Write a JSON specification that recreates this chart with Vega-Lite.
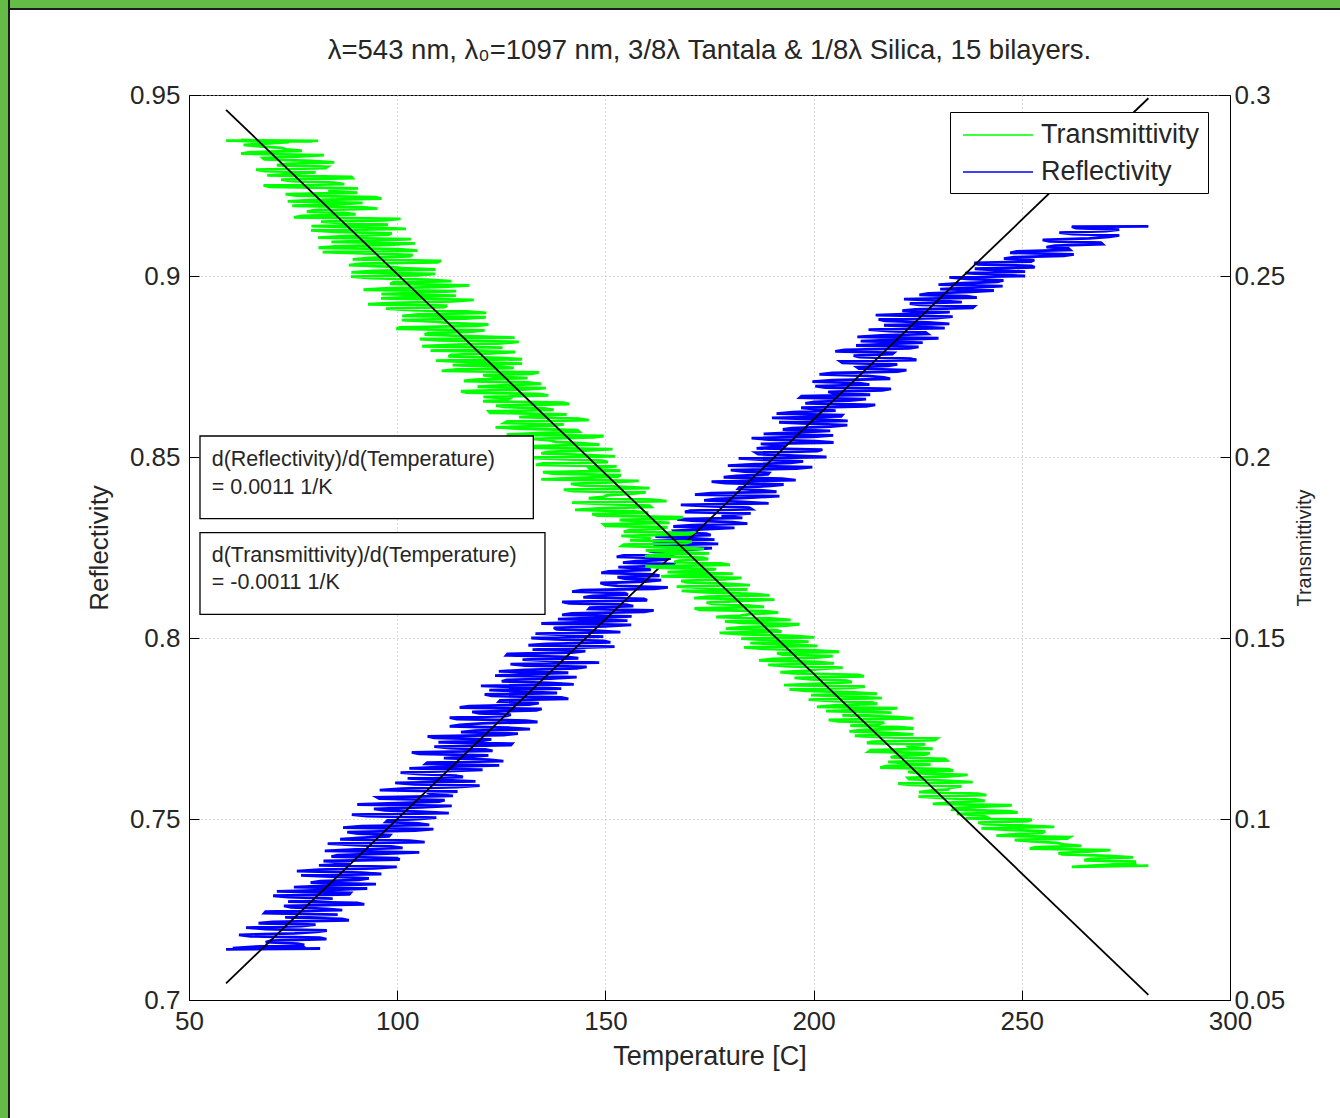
{
"$schema": "https://vega.github.io/schema/vega-lite/v6.json",
"padding": 0,
"background": "white",
"spacing": 0,
"bounds": "flush",
"config": {
  "font": "Liberation Sans",
  "view": {"stroke": null},
  "axis": {"labelFont": "Liberation Sans", "titleFont": "Liberation Sans", "labelColor": "#262626", "titleColor": "#262626", "domainColor": "#000000", "tickColor": "#000000", "titleFontWeight": "normal", "labelOverlap": false, "labelFlush": false}
},
"datasets": {
"blue": [{"t":58.9,"r":0.714},{"t":81.5,"r":0.7142},{"t":63,"r":0.7141},{"t":78,"r":0.7144},{"t":60.5,"r":0.7143},{"t":65,"r":0.7147},
{"t":77.7,"r":0.7152},{"t":76,"r":0.7156},{"t":68.4,"r":0.716},{"t":69.7,"r":0.7164},{"t":83,"r":0.7168},{"t":81.4,"r":0.7172},{"t":64.7,"r":0.7176},{"t":62,"r":0.718},{"t":75.4,"r":0.7184},{"t":80.7,"r":0.7188},
{"t":83.1,"r":0.7192},{"t":68.4,"r":0.7196},{"t":63.7,"r":0.72},{"t":77,"r":0.7204},{"t":80.4,"r":0.7208},{"t":66.7,"r":0.7212},{"t":70.1,"r":0.7216},{"t":88.4,"r":0.722},{"t":86.8,"r":0.7224},{"t":73.1,"r":0.7228},
{"t":75.4,"r":0.7232},{"t":85.7,"r":0.7236},{"t":68.1,"r":0.724},{"t":68.4,"r":0.7244},{"t":86.8,"r":0.7248},{"t":83.1,"r":0.7252},{"t":74.5,"r":0.7256},{"t":72.8,"r":0.726},{"t":92.1,"r":0.7264},{"t":90.4,"r":0.7268},
{"t":73.8,"r":0.7272},{"t":78.1,"r":0.7276},{"t":84.5,"r":0.728},{"t":73.8,"r":0.7284},{"t":70.2,"r":0.7288},{"t":88.5,"r":0.7292},{"t":88.8,"r":0.7296},{"t":71.1,"r":0.73},{"t":84.5,"r":0.7304},{"t":92.8,"r":0.7308},
{"t":75.2,"r":0.7312},{"t":83.5,"r":0.7316},{"t":94.9,"r":0.732},{"t":79.2,"r":0.7324},{"t":81.5,"r":0.7328},{"t":90.8,"r":0.7332},{"t":93.2,"r":0.7336},{"t":85.5,"r":0.734},{"t":76.9,"r":0.7344},{"t":96.2,"r":0.7348},
{"t":91.6,"r":0.7352},{"t":75.9,"r":0.7356},{"t":81.2,"r":0.736},{"t":94.5,"r":0.7364},{"t":99.9,"r":0.7368},{"t":81.2,"r":0.7372},{"t":88.6,"r":0.7376},{"t":86.9,"r":0.738},{"t":82.3,"r":0.7384},{"t":100.6,"r":0.7388},
{"t":99.9,"r":0.7392},{"t":84.2,"r":0.7396},{"t":85.6,"r":0.74},{"t":95.9,"r":0.7404},{"t":105.3,"r":0.7408},{"t":82.6,"r":0.7412},{"t":90,"r":0.7416},{"t":101.3,"r":0.742},{"t":98.6,"r":0.7424},{"t":89.9,"r":0.7428},
{"t":83.3,"r":0.7432},{"t":106.6,"r":0.7436},{"t":103,"r":0.744},{"t":86.3,"r":0.7444},{"t":90.7,"r":0.7448},{"t":98,"r":0.7452},{"t":98.3,"r":0.7456},{"t":90.6,"r":0.746},{"t":88,"r":0.7464},{"t":104.3,"r":0.7468},
{"t":108.7,"r":0.7472},{"t":87,"r":0.7476},{"t":91.4,"r":0.748},{"t":107.7,"r":0.7484},{"t":105,"r":0.7488},{"t":97.3,"r":0.7492},{"t":97.7,"r":0.7496},{"t":105,"r":0.75},{"t":109.4,"r":0.7504},{"t":92.7,"r":0.7508},
{"t":89.1,"r":0.7512},{"t":112.4,"r":0.7516},{"t":105.7,"r":0.752},{"t":97,"r":0.7524},{"t":94.4,"r":0.7528},{"t":105.7,"r":0.7532},{"t":113.1,"r":0.7536},{"t":90.4,"r":0.754},{"t":99.8,"r":0.7544},{"t":110.1,"r":0.7548},
{"t":111.4,"r":0.7552},{"t":95.7,"r":0.7556},{"t":95.1,"r":0.756},{"t":113.4,"r":0.7564},{"t":108.8,"r":0.7568},{"t":107.1,"r":0.7572},{"t":114.5,"r":0.7576},{"t":95.8,"r":0.758},{"t":101.1,"r":0.7584},{"t":114.4,"r":0.7588},
{"t":119.8,"r":0.7592},{"t":104.1,"r":0.7596},{"t":99.5,"r":0.76},{"t":118.8,"r":0.7604},{"t":110.2,"r":0.7608},{"t":102.5,"r":0.7612},{"t":115.8,"r":0.7616},{"t":114.1,"r":0.762},{"t":105.5,"r":0.7624},{"t":100.8,"r":0.7628},
{"t":112.2,"r":0.7632},{"t":120.5,"r":0.7636},{"t":102.9,"r":0.764},{"t":111.2,"r":0.7644},{"t":124.5,"r":0.7648},{"t":106.8,"r":0.7652},{"t":107.2,"r":0.7656},{"t":125.5,"r":0.766},{"t":121.9,"r":0.7664},{"t":111.2,"r":0.7668},
{"t":117.6,"r":0.7672},{"t":121.9,"r":0.7676},{"t":105.2,"r":0.768},{"t":103.5,"r":0.7684},{"t":122.9,"r":0.7688},{"t":121.2,"r":0.7692},{"t":112.6,"r":0.7696},{"t":108.9,"r":0.77},{"t":127.3,"r":0.7704},{"t":127.6,"r":0.7708},
{"t":109.9,"r":0.7712},{"t":120.2,"r":0.7716},{"t":122.6,"r":0.772},{"t":108.9,"r":0.7724},{"t":107.3,"r":0.7728},{"t":125.6,"r":0.7732},{"t":129,"r":0.7736},{"t":115.3,"r":0.774},{"t":118.6,"r":0.7744},{"t":131.9,"r":0.7748},
{"t":127.3,"r":0.7752},{"t":112.6,"r":0.7756},{"t":115,"r":0.776},{"t":120.3,"r":0.7764},{"t":133.7,"r":0.7768},{"t":131,"r":0.7772},{"t":114.3,"r":0.7776},{"t":112.6,"r":0.778},{"t":126,"r":0.7784},{"t":127.3,"r":0.7788},
{"t":119.7,"r":0.7792},{"t":118,"r":0.7796},{"t":133.4,"r":0.78},{"t":134.7,"r":0.7804},{"t":115,"r":0.7808},{"t":117.3,"r":0.7812},{"t":131.7,"r":0.7816},{"t":134,"r":0.782},{"t":124.4,"r":0.7824},{"t":124.7,"r":0.7828},
{"t":141.1,"r":0.7832},{"t":139.4,"r":0.7836},{"t":122.7,"r":0.784},{"t":121,"r":0.7844},{"t":138.4,"r":0.7848},{"t":131.7,"r":0.7852},{"t":122.1,"r":0.7856},{"t":139.4,"r":0.786},{"t":129.8,"r":0.7864},{"t":120.1,"r":0.7868},
{"t":142.4,"r":0.7872},{"t":136.7,"r":0.7876},{"t":125.1,"r":0.788},{"t":126.4,"r":0.7884},{"t":136.8,"r":0.7888},{"t":143.1,"r":0.7892},{"t":123.5,"r":0.7896},{"t":131.8,"r":0.79},{"t":141.1,"r":0.7904},{"t":124.4,"r":0.7908},
{"t":130.8,"r":0.7912},{"t":143.1,"r":0.7916},{"t":145.5,"r":0.792},{"t":130.8,"r":0.7924},{"t":127.2,"r":0.7928},{"t":148.5,"r":0.7932},{"t":137.8,"r":0.7936},{"t":130.1,"r":0.794},{"t":143.5,"r":0.7944},{"t":140.8,"r":0.7948},
{"t":126.2,"r":0.7952},{"t":126.5,"r":0.7956},{"t":141.9,"r":0.796},{"t":145.2,"r":0.7964},{"t":132.5,"r":0.7968},{"t":140.8,"r":0.7972},{"t":152.2,"r":0.7976},{"t":131.5,"r":0.798},{"t":135.9,"r":0.7984},{"t":151.2,"r":0.7988},
{"t":149.6,"r":0.7992},{"t":137.9,"r":0.7996},{"t":132.2,"r":0.8},{"t":149.5,"r":0.8004},{"t":140.9,"r":0.8008},{"t":133.2,"r":0.8012},{"t":153.6,"r":0.8016},{"t":147.9,"r":0.802},{"t":138.3,"r":0.8024},{"t":137.6,"r":0.8028},
{"t":149.9,"r":0.8032},{"t":156.2,"r":0.8036},{"t":134.6,"r":0.804},{"t":144.9,"r":0.8044},{"t":155.3,"r":0.8048},{"t":138.6,"r":0.8052},{"t":149,"r":0.8056},{"t":156.3,"r":0.806},{"t":139.6,"r":0.8064},{"t":141.9,"r":0.8068},
{"t":159.3,"r":0.8072},{"t":161.6,"r":0.8076},{"t":146,"r":0.808},{"t":146.3,"r":0.8084},{"t":156.7,"r":0.8088},{"t":155,"r":0.8092},{"t":141.3,"r":0.8096},{"t":139.6,"r":0.81},{"t":160,"r":0.8104},{"t":159.3,"r":0.8108},
{"t":144.7,"r":0.8112},{"t":147,"r":0.8116},{"t":155.4,"r":0.812},{"t":154.7,"r":0.8124},{"t":142,"r":0.8128},{"t":144.3,"r":0.8132},{"t":161.7,"r":0.8136},{"t":165,"r":0.814},{"t":153,"r":0.8144},{"t":149.8,"r":0.8148},
{"t":148.8,"r":0.8152},{"t":159.6,"r":0.8156},{"t":163.4,"r":0.816},{"t":154.6,"r":0.8164},{"t":152.9,"r":0.8168},{"t":163,"r":0.8172},{"t":161.3,"r":0.8176},{"t":149,"r":0.818},{"t":150.8,"r":0.8184},{"t":160.9,"r":0.8188},
{"t":159.8,"r":0.8192},{"t":153.1,"r":0.8196},{"t":166.1,"r":0.82},{"t":166.4,"r":0.8204},{"t":154.2,"r":0.8208},{"t":157.3,"r":0.8212},{"t":164,"r":0.8216},{"t":165.7,"r":0.822},{"t":152.7,"r":0.8224},{"t":154.4,"r":0.8228},
{"t":166.7,"r":0.8232},{"t":164.2,"r":0.8236},{"t":160.4,"r":0.824},{"t":170.6,"r":0.8244},{"t":175.6,"r":0.8248},{"t":161.7,"r":0.8252},{"t":162.2,"r":0.8256},{"t":177.1,"r":0.826},{"t":167.2,"r":0.8264},{"t":161.3,"r":0.8268},
{"t":176.2,"r":0.8272},{"t":170.3,"r":0.8276},{"t":162,"r":0.828},{"t":175.3,"r":0.8284},{"t":174.2,"r":0.8288},{"t":166.7,"r":0.8292},{"t":166.4,"r":0.8296},{"t":173.3,"r":0.83},{"t":181,"r":0.8304},{"t":166.3,"r":0.8308},
{"t":170.8,"r":0.8312},{"t":184.1,"r":0.8316},{"t":180.6,"r":0.832},{"t":170.7,"r":0.8324},{"t":167.2,"r":0.8328},{"t":182.9,"r":0.8332},{"t":177.9,"r":0.8336},{"t":180.1,"r":0.834},{"t":184.9,"r":0.8344},{"t":169.1,"r":0.8348},
{"t":170.3,"r":0.8352},{"t":185.1,"r":0.8356},{"t":184.5,"r":0.836},{"t":175.9,"r":0.8364},{"t":168.1,"r":0.8368},{"t":189.2,"r":0.8372},{"t":183.2,"r":0.8376},{"t":173.7,"r":0.838},{"t":176.7,"r":0.8384},{"t":185.2,"r":0.8388},
{"t":191.8,"r":0.8392},{"t":171.5,"r":0.8396},{"t":175.4,"r":0.84},{"t":191.1,"r":0.8404},{"t":187.8,"r":0.8408},{"t":181.9,"r":0.8412},{"t":182.2,"r":0.8416},{"t":189.8,"r":0.842},{"t":192.8,"r":0.8424},{"t":178.8,"r":0.8428},
{"t":175.5,"r":0.8432},{"t":195.7,"r":0.8436},{"t":192.4,"r":0.844},{"t":178.4,"r":0.8444},{"t":181.4,"r":0.8448},{"t":189,"r":0.8452},{"t":189.3,"r":0.8456},{"t":183.4,"r":0.846},{"t":180.1,"r":0.8464},{"t":195.8,"r":0.8468},
{"t":199.7,"r":0.8472},{"t":179.4,"r":0.8476},{"t":186,"r":0.848},{"t":194.5,"r":0.8484},{"t":197.5,"r":0.8488},{"t":188,"r":0.8492},{"t":182,"r":0.8496},{"t":203.1,"r":0.85},{"t":195.3,"r":0.8504},{"t":186.7,"r":0.8508},
{"t":186.1,"r":0.8512},{"t":200.9,"r":0.8516},{"t":202.1,"r":0.852},{"t":186.3,"r":0.8524},{"t":191.1,"r":0.8528},{"t":193.3,"r":0.8532},{"t":187.3,"r":0.8536},{"t":204.8,"r":0.854},{"t":200.6,"r":0.8544},{"t":189.3,"r":0.8548},
{"t":185.1,"r":0.8552},{"t":199.9,"r":0.8556},{"t":204.7,"r":0.856},{"t":188,"r":0.8564},{"t":196.4,"r":0.8568},{"t":204,"r":0.8572},{"t":192.6,"r":0.8576},{"t":194.8,"r":0.858},{"t":204.1,"r":0.8584},{"t":208.1,"r":0.8588},
{"t":198.5,"r":0.8592},{"t":191.7,"r":0.8596},{"t":208.2,"r":0.86},{"t":201.4,"r":0.8604},{"t":190,"r":0.8608},{"t":206.6,"r":0.8612},{"t":206.9,"r":0.8616},{"t":191.1,"r":0.862},{"t":195,"r":0.8624},{"t":205.3,"r":0.8628},
{"t":200.2,"r":0.8632},{"t":197,"r":0.8636},{"t":212.6,"r":0.864},{"t":214.8,"r":0.8644},{"t":198,"r":0.8648},{"t":200.2,"r":0.8652},{"t":208.6,"r":0.8656},{"t":212.6,"r":0.866},{"t":196.7,"r":0.8664},{"t":197.1,"r":0.8668},
{"t":213.6,"r":0.8672},{"t":205,"r":0.8676},{"t":203.5,"r":0.868},{"t":216.5,"r":0.8684},{"t":218.6,"r":0.8688},{"t":202.8,"r":0.8692},{"t":200.4,"r":0.8696},{"t":213.4,"r":0.87},{"t":211,"r":0.8704},{"t":199.7,"r":0.8708},
{"t":204.5,"r":0.8712},{"t":218.4,"r":0.8716},{"t":216.9,"r":0.872},{"t":212.8,"r":0.8724},{"t":201.4,"r":0.8728},{"t":204.5,"r":0.8732},{"t":220.1,"r":0.8736},{"t":222.3,"r":0.874},{"t":210.9,"r":0.8744},{"t":210.4,"r":0.8748},
{"t":217.9,"r":0.8752},{"t":220.1,"r":0.8756},{"t":206.9,"r":0.876},{"t":206.4,"r":0.8764},{"t":224.7,"r":0.8768},{"t":223.3,"r":0.8772},{"t":211,"r":0.8776},{"t":209.6,"r":0.878},{"t":218.9,"r":0.8784},{"t":219.3,"r":0.8788},
{"t":205.2,"r":0.8792},{"t":207.4,"r":0.8796},{"t":223,"r":0.88},{"t":225.2,"r":0.8804},{"t":210.2,"r":0.8808},{"t":216.9,"r":0.8812},{"t":226.2,"r":0.8816},{"t":211.3,"r":0.882},{"t":220.6,"r":0.8824},{"t":230,"r":0.8828},
{"t":210.5,"r":0.8832},{"t":216.3,"r":0.8836},{"t":227.4,"r":0.884},{"t":226.9,"r":0.8844},{"t":218.2,"r":0.8848},{"t":213.2,"r":0.8852},{"t":231.5,"r":0.8856},{"t":224.7,"r":0.886},{"t":216.9,"r":0.8864},{"t":232.6,"r":0.8868},
{"t":227.5,"r":0.8872},{"t":217.1,"r":0.8876},{"t":215.6,"r":0.888},{"t":229.5,"r":0.8884},{"t":233.4,"r":0.8888},{"t":214.9,"r":0.8892},{"t":225.1,"r":0.8896},{"t":232.7,"r":0.89},{"t":221.3,"r":0.8904},{"t":224.4,"r":0.8908},
{"t":238.2,"r":0.8912},{"t":238.6,"r":0.8916},{"t":225.4,"r":0.892},{"t":223.1,"r":0.8924},{"t":235.6,"r":0.8928},{"t":229.9,"r":0.8932},{"t":221.7,"r":0.8936},{"t":239.2,"r":0.894},{"t":236.7,"r":0.8944},{"t":225.4,"r":0.8948},
{"t":227.6,"r":0.8952},{"t":237.9,"r":0.8956},{"t":243.3,"r":0.896},{"t":230.4,"r":0.8964},{"t":238.3,"r":0.8968},{"t":245.4,"r":0.8972},{"t":230,"r":0.8976},{"t":235.5,"r":0.898},{"t":244.1,"r":0.8984},{"t":245.6,"r":0.8988},
{"t":236.7,"r":0.8992},{"t":232.6,"r":0.8996},{"t":250.8,"r":0.9},{"t":243.6,"r":0.9004},{"t":236.4,"r":0.9008},{"t":250.8,"r":0.9012},{"t":243.5,"r":0.9016},{"t":238.7,"r":0.902},{"t":253.1,"r":0.9024},{"t":252.3,"r":0.9028},
{"t":239.4,"r":0.9032},{"t":238.6,"r":0.9036},{"t":252.2,"r":0.904},{"t":253,"r":0.9044},{"t":245.7,"r":0.9048},{"t":248.1,"r":0.9052},{"t":260.1,"r":0.9056},{"t":262.5,"r":0.906},{"t":247.2,"r":0.9064},{"t":248.8,"r":0.9068},
{"t":261.6,"r":0.9072},{"t":261.2,"r":0.9076},{"t":255.9,"r":0.908},{"t":257.9,"r":0.9084},{"t":269.4,"r":0.9088},{"t":269,"r":0.9092},{"t":256.6,"r":0.9096},{"t":255,"r":0.91},{"t":266.2,"r":0.9104},{"t":271,"r":0.9108},
{"t":273.4,"r":0.9112},{"t":262.2,"r":0.9116},{"t":259,"r":0.912},{"t":270.2,"r":0.9124},{"t":273.4,"r":0.9128},{"t":263,"r":0.9132},{"t":262,"r":0.9136},{"t":280.4,"r":0.9137}],
"green": [{"t":58.9,"v":0.2874},{"t":81,"v":0.2873},{"t":62.5,"v":0.2875},{"t":79.5,"v":0.2872},{"t":60.5,"v":0.2873},{"t":74,"v":0.287},
{"t":63.1,"v":0.2862},{"t":66.8,"v":0.2858},{"t":72.2,"v":0.2854},{"t":73.3,"v":0.285},{"t":77.1,"v":0.2846},{"t":64.7,"v":0.2842},{"t":62.5,"v":0.2838},{"t":82.4,"v":0.2834},{"t":75.9,"v":0.283},{"t":67.7,"v":0.2826},
{"t":68.1,"v":0.2822},{"t":79.4,"v":0.2818},{"t":84.9,"v":0.2814},{"t":73.3,"v":0.281},{"t":71.1,"v":0.2806},{"t":83.3,"v":0.2802},{"t":82.8,"v":0.2798},{"t":66.1,"v":0.2794},{"t":68.2,"v":0.279},{"t":80.4,"v":0.2786},
{"t":75.1,"v":0.2782},{"t":68.8,"v":0.2778},{"t":89,"v":0.2774},{"t":89.3,"v":0.277},{"t":72.1,"v":0.2766},{"t":74.6,"v":0.2762},{"t":84.8,"v":0.2758},{"t":87.3,"v":0.2754},{"t":67.9,"v":0.275},{"t":69.3,"v":0.2746},
{"t":90.6,"v":0.2742},{"t":84.3,"v":0.2738},{"t":83.5,"v":0.2734},{"t":90.4,"v":0.273},{"t":73.2,"v":0.2726},{"t":75.7,"v":0.2722},{"t":94.8,"v":0.2718},{"t":96.2,"v":0.2714},{"t":80,"v":0.271},{"t":73.7,"v":0.2706},
{"t":91.7,"v":0.2702},{"t":85.4,"v":0.2698},{"t":74.8,"v":0.2694},{"t":91.6,"v":0.269},{"t":95.2,"v":0.2686},{"t":80.1,"v":0.2682},{"t":78.3,"v":0.2678},{"t":87.4,"v":0.2674},{"t":90,"v":0.267},{"t":77.1,"v":0.2666},
{"t":75.2,"v":0.2662},{"t":100.8,"v":0.2658},{"t":96.8,"v":0.2654},{"t":81.7,"v":0.265},{"t":86.5,"v":0.2646},{"t":97.8,"v":0.2642},{"t":79.4,"v":0.2638},{"t":92.9,"v":0.2634},{"t":102.1,"v":0.263},{"t":79.3,"v":0.2626},
{"t":85.2,"v":0.2622},{"t":98.7,"v":0.2618},{"t":97.9,"v":0.2614},{"t":87.2,"v":0.261},{"t":81,"v":0.2606},{"t":103.3,"v":0.2602},{"t":94.9,"v":0.2598},{"t":84.2,"v":0.2594},{"t":104.3,"v":0.259},{"t":98,"v":0.2586},
{"t":85.2,"v":0.2582},{"t":81.1,"v":0.2578},{"t":100.2,"v":0.2574},{"t":104.9,"v":0.257},{"t":82.1,"v":0.2566},{"t":93.4,"v":0.2562},{"t":103.7,"v":0.2558},{"t":102.9,"v":0.2554},{"t":93.4,"v":0.255},{"t":89.3,"v":0.2546},
{"t":110.5,"v":0.2542},{"t":109.7,"v":0.2538},{"t":91.4,"v":0.2534},{"t":88.4,"v":0.253},{"t":97.6,"v":0.2526},{"t":101.2,"v":0.2522},{"t":109.2,"v":0.2518},{"t":94.1,"v":0.2514},{"t":89,"v":0.251},{"t":109.1,"v":0.2506},
{"t":105.1,"v":0.2502},{"t":88.9,"v":0.2498},{"t":93.6,"v":0.2494},{"t":107.1,"v":0.249},{"t":113,"v":0.2486},{"t":99,"v":0.2482},{"t":98.3,"v":0.2478},{"t":117.3,"v":0.2474},{"t":111,"v":0.247},{"t":97,"v":0.2466},
{"t":91.9,"v":0.2462},{"t":114.2,"v":0.2458},{"t":105.8,"v":0.2454},{"t":96.2,"v":0.245},{"t":114.1,"v":0.2446},{"t":104.5,"v":0.2442},{"t":96.1,"v":0.2438},{"t":118.4,"v":0.2434},{"t":113.3,"v":0.243},{"t":99.3,"v":0.2426},
{"t":93,"v":0.2422},{"t":112,"v":0.2418},{"t":111.3,"v":0.2414},{"t":97.3,"v":0.241},{"t":103.2,"v":0.2406},{"t":116.7,"v":0.2402},{"t":121.4,"v":0.2398},{"t":105.2,"v":0.2394},{"t":101.2,"v":0.239},{"t":121.3,"v":0.2386},
{"t":116.2,"v":0.2382},{"t":101.1,"v":0.2378},{"t":109.1,"v":0.2374},{"t":112.7,"v":0.237},{"t":121.9,"v":0.2366},{"t":118.9,"v":0.2362},{"t":100.6,"v":0.2358},{"t":99.8,"v":0.2354},{"t":121,"v":0.235},{"t":116.9,"v":0.2346},
{"t":107.4,"v":0.2342},{"t":106.6,"v":0.2338},{"t":116.9,"v":0.2334},{"t":128.2,"v":0.233},{"t":105.4,"v":0.2326},{"t":110.1,"v":0.2322},{"t":129.2,"v":0.2318},{"t":125.1,"v":0.2314},{"t":112.3,"v":0.231},{"t":106,"v":0.2306},
{"t":125.3,"v":0.2302},{"t":115.6,"v":0.2298},{"t":108,"v":0.2294},{"t":128.3,"v":0.229},{"t":122.7,"v":0.2286},{"t":113,"v":0.2282},{"t":112.3,"v":0.2278},{"t":124.6,"v":0.2274},{"t":130,"v":0.227},{"t":109.3,"v":0.2266},
{"t":117.7,"v":0.2262},{"t":130,"v":0.2258},{"t":113.3,"v":0.2254},{"t":123.6,"v":0.225},{"t":128,"v":0.2246},{"t":114.3,"v":0.2242},{"t":110.7,"v":0.2238},{"t":134,"v":0.2234},{"t":132.3,"v":0.223},{"t":120.6,"v":0.2226},
{"t":123,"v":0.2222},{"t":131.3,"v":0.2218},{"t":118.7,"v":0.2214},{"t":116,"v":0.221},{"t":131.3,"v":0.2206},{"t":134.6,"v":0.2202},{"t":125,"v":0.2198},{"t":119.3,"v":0.2194},{"t":135.7,"v":0.219},{"t":130,"v":0.2186},
{"t":115.3,"v":0.2182},{"t":116.6,"v":0.2178},{"t":134,"v":0.2174},{"t":136.3,"v":0.217},{"t":120.7,"v":0.2166},{"t":127,"v":0.2162},{"t":126.3,"v":0.2158},{"t":120.6,"v":0.2154},{"t":140,"v":0.215},{"t":141.3,"v":0.2146},
{"t":123.7,"v":0.2142},{"t":126,"v":0.2138},{"t":135.3,"v":0.2134},{"t":137.6,"v":0.213},{"t":122,"v":0.2126},{"t":122.3,"v":0.2122},{"t":140.7,"v":0.2118},{"t":135,"v":0.2114},{"t":129.3,"v":0.211},{"t":143.6,"v":0.2106},
{"t":146,"v":0.2102},{"t":126.3,"v":0.2098},{"t":125.7,"v":0.2094},{"t":140,"v":0.209},{"t":137.3,"v":0.2086},{"t":123.6,"v":0.2082},{"t":130,"v":0.2078},{"t":143.3,"v":0.2074},{"t":143.7,"v":0.207},{"t":134,"v":0.2066},
{"t":126.3,"v":0.2062},{"t":149.6,"v":0.2058},{"t":147,"v":0.2054},{"t":132.3,"v":0.205},{"t":136.7,"v":0.2046},{"t":138,"v":0.2042},{"t":144.3,"v":0.2038},{"t":148.6,"v":0.2034},{"t":132,"v":0.203},{"t":130.3,"v":0.2026},
{"t":151.7,"v":0.2022},{"t":145,"v":0.2018},{"t":136.3,"v":0.2014},{"t":134.6,"v":0.201},{"t":145,"v":0.2006},{"t":152.3,"v":0.2002},{"t":129.7,"v":0.1998},{"t":139,"v":0.1994},{"t":149.3,"v":0.199},{"t":150.6,"v":0.1986},
{"t":135,"v":0.1982},{"t":133.3,"v":0.1978},{"t":152.7,"v":0.1974},{"t":146,"v":0.197},{"t":146.3,"v":0.1966},{"t":153.6,"v":0.1962},{"t":135,"v":0.1958},{"t":137.3,"v":0.1954},{"t":153.7,"v":0.195},{"t":153,"v":0.1946},
{"t":143.3,"v":0.1942},{"t":134.6,"v":0.1938},{"t":158,"v":0.1934},{"t":151.3,"v":0.193},{"t":141.7,"v":0.1926},{"t":144,"v":0.1922},{"t":153.3,"v":0.1918},{"t":160.6,"v":0.1914},{"t":140,"v":0.191},{"t":142.3,"v":0.1906},
{"t":159.7,"v":0.1902},{"t":156,"v":0.1898},{"t":150.3,"v":0.1894},{"t":149.6,"v":0.189},{"t":146,"v":0.1886},{"t":161.3,"v":0.1882},{"t":164.7,"v":0.1878},{"t":142,"v":0.1874},{"t":150.3,"v":0.187},{"t":160.6,"v":0.1866},
{"t":161,"v":0.1862},{"t":148.3,"v":0.1858},{"t":142.7,"v":0.1854},{"t":157,"v":0.185},{"t":160.3,"v":0.1846},{"t":146.8,"v":0.1842},{"t":148.2,"v":0.1838},{"t":168.6,"v":0.1834},{"t":167,"v":0.183},{"t":153.4,"v":0.1826},
{"t":159.6,"v":0.1822},{"t":165.4,"v":0.1818},{"t":149.6,"v":0.1814},{"t":150,"v":0.181},{"t":164.9,"v":0.1806},{"t":163.5,"v":0.1802},{"t":155.8,"v":0.1798},{"t":154.4,"v":0.1794},{"t":171,"v":0.179},{"t":170.5,"v":0.1786},
{"t":153.8,"v":0.1782},{"t":159.6,"v":0.1778},{"t":160.9,"v":0.1774},{"t":155.9,"v":0.177},{"t":170.7,"v":0.1766},{"t":169.3,"v":0.1762},{"t":154.4,"v":0.1758},{"t":153.9,"v":0.1754},{"t":167.9,"v":0.175},{"t":173.7,"v":0.1746},
{"t":159.7,"v":0.1742},{"t":165.5,"v":0.1738},{"t":174.9,"v":0.1734},{"t":161.8,"v":0.173},{"t":159.5,"v":0.1726},{"t":173.4,"v":0.1722},{"t":174.7,"v":0.1718},{"t":167.9,"v":0.1714},{"t":166.5,"v":0.171},{"t":177.7,"v":0.1706},
{"t":179.9,"v":0.1702},{"t":159.6,"v":0.1698},{"t":163.6,"v":0.1694},{"t":176.6,"v":0.169},{"t":173.5,"v":0.1686},{"t":164.9,"v":0.1682},{"t":180.6,"v":0.1678},{"t":170.2,"v":0.1674},{"t":163.4,"v":0.167},{"t":182.7,"v":0.1666},
{"t":178.6,"v":0.1662},{"t":168.2,"v":0.1658},{"t":169.5,"v":0.1654},{"t":178.9,"v":0.165},{"t":184.7,"v":0.1646},{"t":167.1,"v":0.1642},{"t":174.7,"v":0.1638},{"t":184.1,"v":0.1634},{"t":168.3,"v":0.163},{"t":174.1,"v":0.1626},
{"t":185.4,"v":0.1622},{"t":189.4,"v":0.1618},{"t":174.5,"v":0.1614},{"t":171.3,"v":0.161},{"t":190.6,"v":0.1606},{"t":182,"v":0.1602},{"t":174.3,"v":0.1598},{"t":175.6,"v":0.1594},{"t":184.1,"v":0.159},{"t":188.1,"v":0.1586},
{"t":171.4,"v":0.1582},{"t":172.7,"v":0.1578},{"t":188.4,"v":0.1574},{"t":191.5,"v":0.157},{"t":184.7,"v":0.1566},{"t":182.4,"v":0.1562},{"t":176.6,"v":0.1558},{"t":189.6,"v":0.1554},{"t":194.5,"v":0.155},{"t":178.7,"v":0.1546},
{"t":182.7,"v":0.1542},{"t":196.6,"v":0.1538},{"t":193.4,"v":0.1534},{"t":183,"v":0.153},{"t":178.9,"v":0.1526},{"t":191,"v":0.1522},{"t":192.3,"v":0.1518},{"t":177.4,"v":0.1514},{"t":183.2,"v":0.151},{"t":195.3,"v":0.1506},
{"t":200.2,"v":0.1502},{"t":182.6,"v":0.1498},{"t":190.3,"v":0.1494},{"t":198.8,"v":0.149},{"t":184.8,"v":0.1486},{"t":193.3,"v":0.1482},{"t":200.9,"v":0.1478},{"t":183.3,"v":0.1474},{"t":188.2,"v":0.147},{"t":200.3,"v":0.1466},
{"t":206.1,"v":0.1462},{"t":191.2,"v":0.1458},{"t":192.5,"v":0.1454},{"t":204.6,"v":0.145},{"t":200.5,"v":0.1446},{"t":190.1,"v":0.1442},{"t":186.9,"v":0.1438},{"t":200.8,"v":0.1434},{"t":204.9,"v":0.143},{"t":189.1,"v":0.1426},
{"t":194,"v":0.1422},{"t":207,"v":0.1418},{"t":201.1,"v":0.1414},{"t":198.8,"v":0.141},{"t":192,"v":0.1406},{"t":195.1,"v":0.1402},{"t":210.8,"v":0.1398},{"t":212.1,"v":0.1394},{"t":195.4,"v":0.139},{"t":199.4,"v":0.1386},
{"t":207.9,"v":0.1382},{"t":209.2,"v":0.1378},{"t":201.5,"v":0.1374},{"t":192.9,"v":0.137},{"t":212.3,"v":0.1366},{"t":209.1,"v":0.1362},{"t":194.2,"v":0.1358},{"t":198.2,"v":0.1354},{"t":209.4,"v":0.135},{"t":215.2,"v":0.1346},
{"t":199.4,"v":0.1342},{"t":208.8,"v":0.1338},{"t":216.4,"v":0.1334},{"t":198.8,"v":0.133},{"t":204.6,"v":0.1326},{"t":214,"v":0.1322},{"t":215.3,"v":0.1318},{"t":204.9,"v":0.1314},{"t":200.8,"v":0.131},{"t":220.1,"v":0.1306},
{"t":213.4,"v":0.1302},{"t":203,"v":0.1298},{"t":218.7,"v":0.1294},{"t":210.1,"v":0.129},{"t":206.9,"v":0.1286},{"t":219.9,"v":0.1282},{"t":223.9,"v":0.1278},{"t":203.6,"v":0.1274},{"t":205.8,"v":0.127},{"t":217,"v":0.1266},
{"t":215.6,"v":0.1262},{"t":208.8,"v":0.1258},{"t":220.9,"v":0.1254},{"t":224,"v":0.125},{"t":211.8,"v":0.1246},{"t":208.6,"v":0.1242},{"t":218.1,"v":0.1238},{"t":223.9,"v":0.1234},{"t":209.9,"v":0.123},{"t":215.7,"v":0.1226},
{"t":229.6,"v":0.1222},{"t":229.1,"v":0.1218},{"t":214.2,"v":0.1214},{"t":212.8,"v":0.121},{"t":226.8,"v":0.1206},{"t":222.3,"v":0.1202},{"t":223.4,"v":0.1198},{"t":228.6,"v":0.1194},{"t":213.7,"v":0.119},{"t":213.2,"v":0.1186},
{"t":227.9,"v":0.1182},{"t":226.7,"v":0.1178},{"t":219.8,"v":0.1174},{"t":218.5,"v":0.117},{"t":231.6,"v":0.1166},{"t":232,"v":0.1162},{"t":217.9,"v":0.1158},{"t":223,"v":0.1154},{"t":228.1,"v":0.115},{"t":217.3,"v":0.1146},
{"t":216,"v":0.1142},{"t":232.4,"v":0.1138},{"t":233.5,"v":0.1134},{"t":222.7,"v":0.113},{"t":225.4,"v":0.1126},{"t":237,"v":0.1122},{"t":232.6,"v":0.1118},{"t":222.6,"v":0.1114},{"t":222.9,"v":0.111},{"t":231.4,"v":0.1106},
{"t":238.2,"v":0.1102},{"t":220.3,"v":0.1098},{"t":223.1,"v":0.1094},{"t":235.5,"v":0.109},{"t":232.7,"v":0.1086},{"t":232.4,"v":0.1082},{"t":228,"v":0.1078},{"t":225.3,"v":0.1074},{"t":239.4,"v":0.107},{"t":241.5,"v":0.1066},
{"t":225.2,"v":0.1062},{"t":231.3,"v":0.1058},{"t":239,"v":0.1054},{"t":241.1,"v":0.105},{"t":233.6,"v":0.1046},{"t":228.6,"v":0.1042},{"t":247.6,"v":0.1038},{"t":241,"v":0.1034},{"t":233.6,"v":0.103},{"t":233.4,"v":0.1026},
{"t":246.8,"v":0.1022},{"t":249,"v":0.1018},{"t":234.4,"v":0.1014},{"t":240.7,"v":0.101},{"t":241.4,"v":0.1006},{"t":236.5,"v":0.1002},{"t":252.4,"v":0.0998},{"t":251.6,"v":0.0994},{"t":239.5,"v":0.099},{"t":241,"v":0.0986},
{"t":249.7,"v":0.0982},{"t":257.8,"v":0.0978},{"t":240.3,"v":0.0974},{"t":246.8,"v":0.097},{"t":255.6,"v":0.0966},{"t":254.9,"v":0.0962},{"t":248.6,"v":0.0958},{"t":243.9,"v":0.0954},{"t":261.5,"v":0.095},{"t":260.9,"v":0.0946},
{"t":248.3,"v":0.0942},{"t":252.5,"v":0.0938},{"t":258.3,"v":0.0934},{"t":260.1,"v":0.093},{"t":264.3,"v":0.0926},{"t":253.3,"v":0.0922},{"t":251.9,"v":0.0918},{"t":271.3,"v":0.0914},{"t":265.8,"v":0.091},{"t":258.8,"v":0.0906},
{"t":259.7,"v":0.0902},{"t":271,"v":0.0898},{"t":276.7,"v":0.0894},{"t":266.5,"v":0.089},{"t":265,"v":0.0886},{"t":277.1,"v":0.0882},{"t":277.2,"v":0.0878},{"t":262,"v":0.0868},{"t":280.4,"v":0.0871}]
},
"vconcat": [
  {"vconcat": [
    {"width": 1340, "height": 8, "data": {"values": []}, "mark": {"type": "point", "opacity": 0}, "encoding": {}, "view": {"fill": "#64bb46", "stroke": null}},
    {"width": 1340, "height": 2, "data": {"values": []}, "mark": {"type": "point", "opacity": 0}, "encoding": {}, "view": {"fill": "#1c1c1c", "stroke": null}}
  ], "spacing": 0, "bounds": "flush"},
  {"hconcat": [
    {"hconcat": [
      {"width": 8, "height": 1118, "data": {"values": []}, "mark": {"type": "point", "opacity": 0}, "encoding": {}, "view": {"fill": "#64bb46", "stroke": null}},
      {"width": 2, "height": 1118, "data": {"values": []}, "mark": {"type": "point", "opacity": 0}, "encoding": {}, "view": {"fill": "#1c1c1c", "stroke": null}}
    ], "spacing": 0, "bounds": "flush"},
    {"vconcat": [
      {"width": 1041, "height": 1, "data": {"values": []}, "mark": {"type": "point", "opacity": 0}, "encoding": {}, "view": {"stroke": null}},
      {
        "width": 1041,
        "height": 905,
        "view": {"stroke": "#000000", "strokeWidth": 1},
        "title": {"text": "λ=543 nm, λ₀=1097 nm, 3/8λ Tantala & 1/8λ Silica, 15 bilayers.", "font": "Liberation Sans", "fontSize": 27.5, "fontWeight": "normal", "color": "#262626", "frame": "group", "offset": 18},
        "resolve": {"scale": {"y": "independent"}},
        "layer": [
          {"layer": [
            {"data": {"name": "blue"},
             "mark": {"type": "line", "strokeWidth": 2.8},
             "encoding": {
               "x": {"field": "t", "type": "quantitative", "scale": {"domain": [50, 300], "nice": false, "zero": false},
                     "axis": {"values": [50, 100, 150, 200, 250, 300], "format": "d", "grid": true, "gridDash": [1, 3], "gridColor": "#b4b4b4", "tickSize": -10, "labelPadding": 18, "labelFontSize": 26, "title": "Temperature [C]", "titleFontSize": 27, "titlePadding": 9}},
               "y": {"field": "r", "type": "quantitative", "scale": {"domain": [0.7, 0.95], "nice": false, "zero": false},
                     "axis": {"orient": "left", "values": [0.7, 0.75, 0.8, 0.85, 0.9, 0.95], "format": "~g", "grid": true, "gridDash": [1, 3], "gridColor": "#b4b4b4", "tickSize": -10, "labelPadding": 19, "labelFontSize": 26, "title": "Reflectivity", "titleFontSize": 26, "titlePadding": 17}},
               "color": {"datum": "Reflectivity", "type": "nominal",
                         "scale": {"domain": ["Transmittivity", "Reflectivity"], "range": ["#00ff00", "#0000ff"]},
                         "legend": {"orient": "none", "legendX": 950, "legendY": 112, "title": null, "fillColor": "white", "strokeColor": "#000000", "padding": 8, "rowPadding": 9, "symbolType": "M-2.5,0H2.5", "symbolSize": 784, "symbolStrokeWidth": 1.5, "symbolOffset": 25, "labelOffset": 28, "labelFontSize": 27, "labelFont": "Liberation Sans", "labelColor": "#262626", "cornerRadius": 0}},
               "order": {"value": null}
             }},
            {"data": {"values": [{"t": 58.9, "r": 0.7046}, {"t": 280.4, "r": 0.9491}]},
             "mark": {"type": "line", "color": "#000000", "strokeWidth": 1.8},
             "encoding": {"x": {"field": "t", "type": "quantitative"}, "y": {"field": "r", "type": "quantitative"}}}
          ]},
          {"layer": [
            {"data": {"name": "green"},
             "mark": {"type": "line", "strokeWidth": 2.8},
             "encoding": {
               "x": {"field": "t", "type": "quantitative"},
               "y": {"field": "v", "type": "quantitative", "scale": {"domain": [0.05, 0.3], "nice": false, "zero": false},
                     "axis": {"orient": "right", "values": [0.05, 0.1, 0.15, 0.2, 0.25, 0.3], "format": "~g", "grid": false, "tickSize": -10, "labelPadding": 14, "labelFontSize": 26, "title": "Transmittivity", "titleFontSize": 20, "titleAngle": 270, "titleBaseline": "top", "titlePadding": 10}},
               "color": {"datum": "Transmittivity", "type": "nominal"},
               "order": {"value": null}
             }},
            {"data": {"values": [{"t": 58.9, "v": 0.2959}, {"t": 280.4, "v": 0.0514}]},
             "mark": {"type": "line", "color": "#000000", "strokeWidth": 1.8},
             "encoding": {"x": {"field": "t", "type": "quantitative"}, "y": {"field": "v", "type": "quantitative"}}}
          ]},
          {"data": {"values": [{}]},
           "layer": [
            {"mark": {"type": "rect", "fill": "white", "stroke": "#000000", "strokeWidth": 1.3},
             "encoding": {"x": {"datum": 52.64, "type": "quantitative"}, "x2": {"datum": 132.69},
                          "y": {"datum": 0.8558, "type": "quantitative", "scale": {"domain": [0.7, 0.95], "nice": false, "zero": false}, "axis": null}, "y2": {"datum": 0.83296}}},
            {"mark": {"type": "rect", "fill": "white", "stroke": "#000000", "strokeWidth": 1.3},
             "encoding": {"x": {"datum": 52.64, "type": "quantitative"}, "x2": {"datum": 135.49},
                          "y": {"datum": 0.82909, "type": "quantitative"}, "y2": {"datum": 0.80655}}},
            {"mark": {"type": "text", "text": "d(Reflectivity)/d(Temperature)", "align": "left", "baseline": "middle", "font": "Liberation Sans", "fontSize": 21.5, "color": "#262626"},
             "encoding": {"x": {"datum": 55.45, "type": "quantitative"}, "y": {"datum": 0.84917, "type": "quantitative"}}},
            {"mark": {"type": "text", "text": "= 0.0011 1/K", "align": "left", "baseline": "middle", "font": "Liberation Sans", "fontSize": 21.5, "color": "#262626"},
             "encoding": {"x": {"datum": 55.45, "type": "quantitative"}, "y": {"datum": 0.84135, "type": "quantitative"}}},
            {"mark": {"type": "text", "text": "d(Transmittivity)/d(Temperature)", "align": "left", "baseline": "middle", "font": "Liberation Sans", "fontSize": 21.5, "color": "#262626"},
             "encoding": {"x": {"datum": 55.45, "type": "quantitative"}, "y": {"datum": 0.82265, "type": "quantitative"}}},
            {"mark": {"type": "text", "text": "= -0.0011 1/K", "align": "left", "baseline": "middle", "font": "Liberation Sans", "fontSize": 21.5, "color": "#262626"},
             "encoding": {"x": {"datum": 55.45, "type": "quantitative"}, "y": {"datum": 0.81511, "type": "quantitative"}}}
          ]}
        ]
      }
    ], "spacing": 94, "bounds": "flush"}
  ], "spacing": 189, "bounds": "flush"}
]
}
